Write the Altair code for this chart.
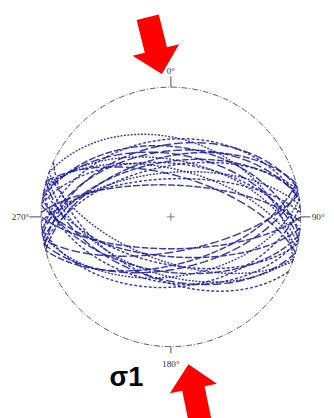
import numpy as np
import pandas as pd
import altair as alt

# ---- data: planes (strike, dip, right-hand rule), lower-hemisphere equal-area net
STRIKES_N = [255, 258, 262, 265, 260, 276, 280, 284, 278, 268, 257, 282, 272, 263, 286, 290]
DIPS_N = [52, 58, 48, 62, 55, 56, 50, 60, 45, 66, 44, 54, 70, 40, 64, 40]
STRIKES_S = [98, 102, 106, 110, 95, 100, 78, 82, 75, 85, 80, 108, 90, 115]
DIPS_S = [55, 60, 50, 62, 65, 48, 57, 52, 60, 45, 68, 53, 70, 50]

CARD_LABELS = ["0°", "90°", "180°", "270°"]
CARD_TRENDS = [0, 90, 180, 270]
LABEL_R = [1.125, 1.135, 1.135, 1.16]
TICK_R = [1.083, 1.075, 1.05, 1.09]

R = 133.0
W, H = 326, 410
CX, CY = 167.0, 209.0  # circle centre in plot pixels
XDOM = [-CX / R, (W - CX) / R]
YDOM = [-(H - CY) / R, CY / R]


def great_circle(strike, dip, n=181):
    s = np.radians(strike)
    d = np.radians(dip)
    rake = np.linspace(0, np.pi, n)
    sv = np.array([np.sin(s), np.cos(s), 0.0])
    dd = s + np.pi / 2
    dv = np.array([np.sin(dd) * np.cos(d), np.cos(dd) * np.cos(d), np.sin(d)])
    v = np.outer(np.cos(rake), sv) + np.outer(np.sin(rake), dv)
    e, nn, dn = v.T
    plunge = np.arcsin(np.clip(dn, -1, 1))
    trend = np.arctan2(e, nn)
    rho = np.sqrt(2) * np.sin((np.pi / 2 - plunge) / 2)
    return rho * np.sin(trend), rho * np.cos(trend)


rows = []
planes = list(zip(STRIKES_N, DIPS_N)) + list(zip(STRIKES_S, DIPS_S))
for i, (s, d) in enumerate(planes):
    x, y = great_circle(s, d)
    for k in range(len(x)):
        rows.append({"id": i, "k": k, "x": x[k], "y": y[k], "dash": str(i % 4)})
gc = pd.DataFrame(rows)

az = np.radians(np.arange(0, 361, 1))
prim = pd.DataFrame({"k": np.arange(len(az)), "x": np.sin(az), "y": np.cos(az)})

ct = np.radians(CARD_TRENDS)
ticks = pd.DataFrame({
    "x": np.sin(ct), "y": np.cos(ct),
    "x2": np.array(TICK_R) * np.sin(ct), "y2": np.array(TICK_R) * np.cos(ct),
})
labels = pd.DataFrame({
    "t": CARD_LABELS,
    "x": np.array(LABEL_R) * np.sin(ct),
    "y": np.array(LABEL_R) * np.cos(ct),
})

xs = alt.Scale(domain=XDOM, nice=False, zero=False)
ys = alt.Scale(domain=YDOM, nice=False, zero=False)
X = lambda f="x": alt.X(f + ":Q", scale=xs, axis=None)
Y = lambda f="y": alt.Y(f + ":Q", scale=ys, axis=None)

lines = alt.Chart(gc).mark_line(strokeWidth=1.5, opacity=0.85, color="#1c1c9c").encode(
    x=X(), y=Y(), order="k:Q", detail="id:N",
    strokeDash=alt.StrokeDash("dash:N", legend=None,
                              scale=alt.Scale(range=[[7, 2], [3, 2], [9, 3], [2, 1.5]])),
)

primitive = alt.Chart(prim).mark_line(strokeWidth=1, color="#555555", strokeDash=[6, 2, 1, 2]).encode(
    x=X(), y=Y(), order="k:Q")

tick_layer = alt.Chart(ticks).mark_rule(color="#444444", strokeWidth=1).encode(
    x=X(), y=Y(), x2="x2:Q", y2="y2:Q")

label_layer = alt.Chart(labels).mark_text(font="Liberation Serif", fontSize=9.5, color="#333333",
                                          baseline="middle", align="center").encode(
    x=X(), y=Y(), text="t:N")

centre = alt.Chart(pd.DataFrame({"x": [0.0], "y": [0.0]})).mark_point(
    shape="M-1,0L1,0M0,-1L0,1", size=64, color="#444444", strokeWidth=1, filled=False).encode(
    x=X(), y=Y())

ARROW = "M-0.39,-1L0.39,-1L0.39,0.15L0.82,0.15L0,1L-0.82,0.15L-0.39,0.15Z"
arrows_df = pd.DataFrame({
    "x": [(158.5 - 175) / R, (199 - 175) / R],
    "y": [(217 - 41.5) / R, (217 - 397.4) / R],
    "a": [346, 168.5],
})
arrows = alt.Chart(arrows_df).mark_point(shape=ARROW, filled=True, color="#ff0000",
                                         strokeWidth=0, opacity=1, size=3600).encode(
    x=X(), y=Y(), angle=alt.Angle("a:Q", scale=None))

sigma = alt.Chart(pd.DataFrame({"x": [(129.5 - 175) / R], "y": [(217 - 390) / R], "t": ["σ1"]})).mark_text(
    font="Liberation Sans", fontSize=28, fontWeight="bold", color="#000000",
    align="center", baseline="alphabetic").encode(x=X(), y=Y(), text="t:N")

chart = alt.layer(primitive, lines, tick_layer, label_layer, centre, arrows, sigma).properties(
    width=W, height=H, padding=0, autosize=alt.AutoSizeParams(type="none")
).configure_view(stroke=None)

chart.save("out.html", embed_options={"renderer": "svg", "actions": False})
